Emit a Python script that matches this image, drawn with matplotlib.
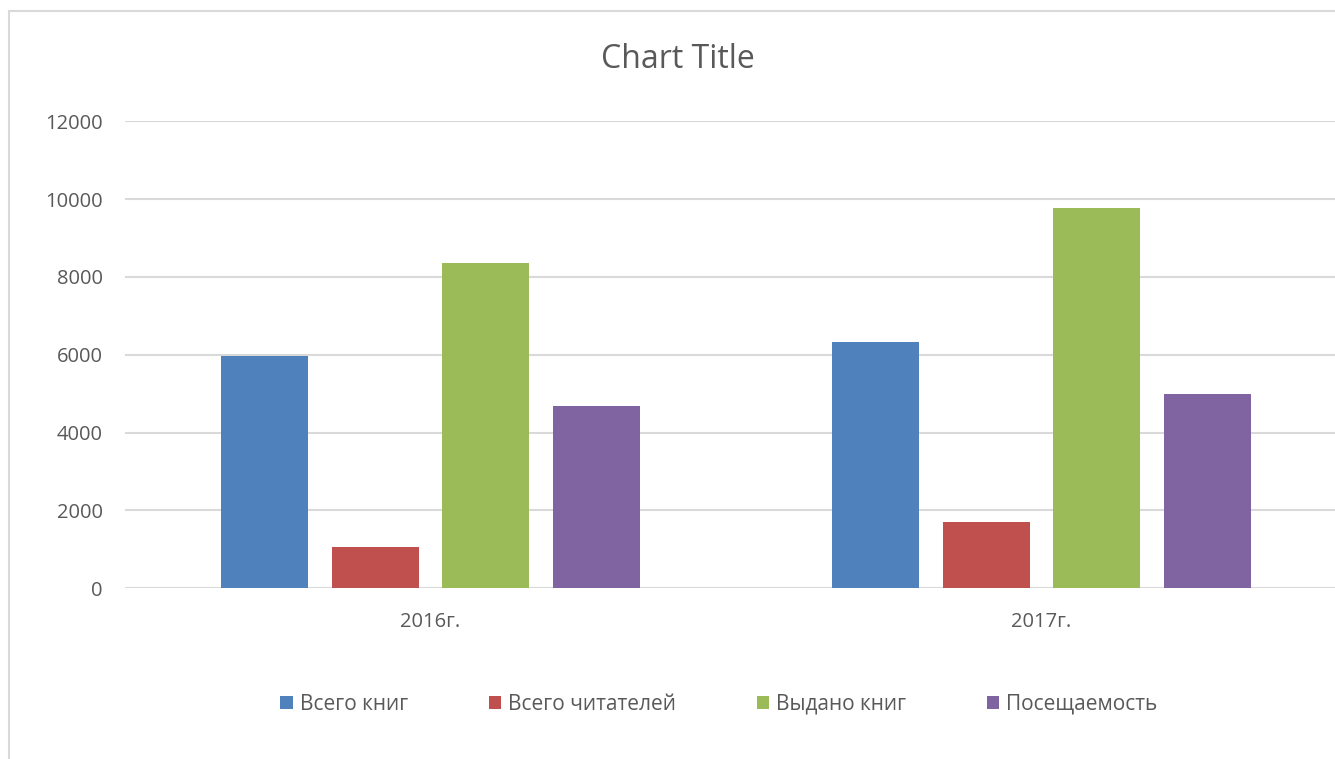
import numpy as np
import matplotlib.pyplot as plt
from matplotlib.patches import Rectangle

years = ["2016г.", "2017г."]
series_names = ["Всего книг", "Всего читателей", "Выдано книг", "Посещаемость"]
total_books = [5960, 6320]
total_readers = [1060, 1700]
books_issued = [8370, 9760]
attendance = [4680, 4990]
colors = ["#4F81BD", "#C0504D", "#9BBB59", "#8064A2"]

yticks = [0, 2000, 4000, 6000, 8000, 10000, 12000]


def main():
    plt.rcParams['font.family'] = ['Open Sans', 'DejaVu Sans']
    text_color = "#595959"
    grid_color = "#D9D9D9"

    fig = plt.figure(figsize=(13.35, 7.59), dpi=100)
    W, H = 1335, 759

    # chart area border (cropped on right/bottom)
    fig.patches.append(Rectangle((8.5 / W, -0.1), 1.2, 1 - 10.5 / H + 0.1,
                                 transform=fig.transFigure, fill=False,
                                 edgecolor=grid_color, linewidth=1.5))

    ax = fig.add_axes([125 / W, (H - 588.3) / H, 1222 / W, 467 / H])

    xs = np.arange(len(years))
    step = 0.1812
    width = 0.1424
    data = [total_books, total_readers, books_issued, attendance]
    for i, (name, vals, c) in enumerate(zip(series_names, data, colors)):
        ax.bar(xs + (i - 1.5) * step, vals, width, color=c, label=name,
               edgecolor="none", zorder=3)

    ax.set_xlim(-0.5, 1.5)
    ax.set_ylim(0, 12000)
    ax.set_yticks(yticks)
    ax.set_yticklabels([str(t) for t in yticks])
    ax.set_xticks(xs)
    ax.set_xticklabels(years)
    ax.yaxis.grid(True, color=grid_color, linewidth=1.5, zorder=0)
    ax.set_axisbelow(True)
    for s in ax.spines.values():
        s.set_visible(False)
    ax.tick_params(axis='y', length=0, pad=16, labelsize=14.5, labelcolor=text_color)
    ax.tick_params(axis='x', length=0, pad=17, labelsize=14.5, labelcolor=text_color)

    fig.text(678 / W, (H - 59) / H, "Chart Title", ha='center', va='center',
             fontsize=23, color=text_color)

    handles, labels = ax.get_legend_handles_labels()
    leg = fig.legend(handles, labels, loc='center', ncol=4,
                     bbox_to_anchor=(719 / W, (H - 704) / H), frameon=False,
                     fontsize=15, handlelength=0.6, handleheight=0.6,
                     handletextpad=0.35, columnspacing=3.85)
    for t in leg.get_texts():
        t.set_color(text_color)

    fig.savefig("out.png", dpi=100)


if __name__ == "__main__":
    main()
